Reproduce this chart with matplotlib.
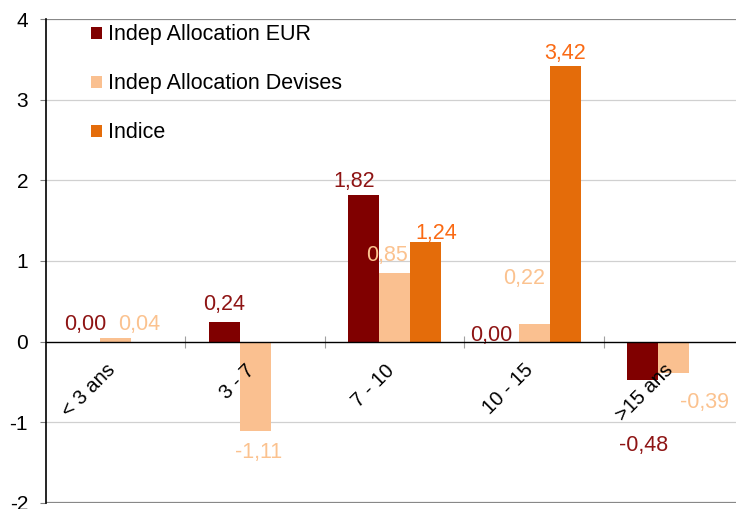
import numpy as np
import matplotlib
matplotlib.use("Agg")
import matplotlib.pyplot as plt
from matplotlib.patches import Patch

plt.rcParams['font.family'] = ['Liberation Sans', 'DejaVu Sans']
plt.rcParams['axes.unicode_minus'] = False

# data
categories = ['< 3 ans', '3 - 7', '7 - 10', '10 - 15', '>15 ans']
series_names = ['Indep Allocation EUR', 'Indep Allocation Devises', 'Indice']
eur = [0.00, 0.24, 1.82, 0.00, -0.48]
devises = [0.04, -1.11, 0.85, 0.22, -0.39]
indice = [np.nan, np.nan, 1.24, 3.42, np.nan]

bar_colors = ['#800000', '#FAC090', '#E46C0A']
label_colors = ['#8E1414', '#FBC28F', '#FA6A14']

# manual label nudges (pixels), like the hand-placed labels in the original
nudges = [
    [(0, 12), (0, 12.7), (-10, 7.8), (-12, 1), (0.5, -70.8)],
    [(23, 8.8), (3.5, -26.3), (-8, 12.6), (-10, 40), (31, -34.6)],
    [None, None, (11, 3), (-0.5, 6.4), None],
]

fig = plt.figure(figsize=(7.36, 5.09), dpi=100)
ax = fig.add_axes([46 / 736, 6 / 509, 697.5 / 736, 484 / 509])

x = np.arange(len(categories))
w = 0.222
for k, vals in enumerate([eur, devises, indice]):
    pos = x + (k - 1) * w
    ax.bar(pos, vals, width=w, color=bar_colors[k], zorder=3)
    for i, v in enumerate(vals):
        if np.isnan(v) or nudges[k][i] is None:
            continue
        dx, dy = nudges[k][i]
        ax.annotate(f"{v:.2f}".replace('.', ','), xy=(pos[i], v),
                    xytext=(dx, dy), textcoords='offset pixels',
                    ha='center', va='baseline', fontsize=15.5,
                    color=label_colors[k], zorder=4)

# category labels hanging under the zero line
for i, c in enumerate(categories):
    ax.annotate(c, xy=(i, 0), xytext=(3, -19), textcoords='offset pixels',
                ha='right', va='top', rotation=45, fontsize=14.5)

ax.set_xlim(-0.5, len(categories) - 0.5)
ax.set_ylim(-2, 4)
ax.set_yticks(range(-2, 5))
ax.set_yticklabels([str(t) for t in range(-2, 5)])
ax.tick_params(axis='y', length=4.3, width=0.8, color='#808080', pad=8.6,
               labelsize=15)

# gridlines
for t in range(-1, 4):
    if t != 0:
        ax.axhline(t, color='#D0D0D0', lw=0.9, zorder=1)
ax.axhline(4, color='#888888', lw=1.6, zorder=1)
ax.axhline(-2, color='#888888', lw=1.6, zorder=1)

# zero axis with crossing ticks
ax.spines['bottom'].set_position(('data', 0))
ax.spines['bottom'].set_color('black')
ax.spines['bottom'].set_linewidth(1.0)
ax.spines['bottom'].set_zorder(5)
ax.set_xticks(np.arange(0.5, len(categories) - 0.5, 1.0))
ax.set_xticklabels([])
ax.tick_params(axis='x', direction='inout', length=9, width=0.8, color='#A0A0A0')

ax.spines['top'].set_visible(False)
ax.spines['right'].set_visible(False)
ax.spines['left'].set_color('black')
ax.spines['left'].set_linewidth(1.2)
ax.spines['left'].set_zorder(5)

handles = [Patch(facecolor=c, edgecolor='none') for c in bar_colors]
leg = ax.legend(handles, series_names, loc='upper left',
                bbox_to_anchor=(40 / 697.5, 1.0), frameon=False,
                fontsize=15.5, handlelength=0.48, handleheight=0.48,
                handletextpad=0.3, labelspacing=1.3, borderaxespad=0.0,
                borderpad=0.25)

fig.savefig('out.png', dpi=100)
